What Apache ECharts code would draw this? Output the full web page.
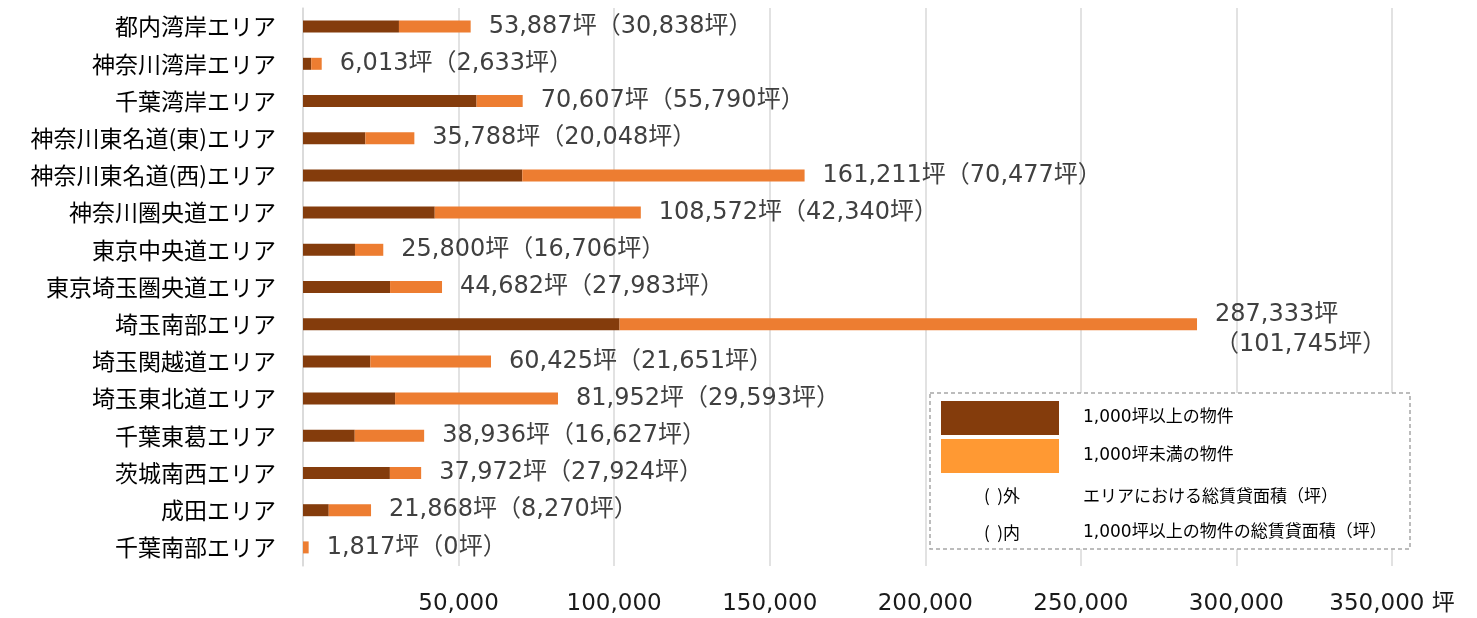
<!DOCTYPE html>
<html>
<head>
<meta charset="utf-8">
<script src="https://cdn.jsdelivr.net/npm/echarts@6/dist/echarts.min.js"></script>
<style>
  html, body { margin: 0; padding: 0; background: #fff; }
  #chart { width: 1477px; height: 618px; }
</style>
</head>
<body>
<div id="chart"></div>
<script>
// エリア名（上から順）
var areas = ['都内湾岸エリア', '神奈川湾岸エリア', '千葉湾岸エリア', '神奈川東名道(東)エリア', '神奈川東名道(西)エリア',
  '神奈川圏央道エリア', '東京中央道エリア', '東京埼玉圏央道エリア', '埼玉南部エリア', '埼玉関越道エリア',
  '埼玉東北道エリア', '千葉東葛エリア', '茨城南西エリア', '成田エリア', '千葉南部エリア']
// エリアにおける総賃貸面積（坪）
var totalArea = [53887, 6013, 70607, 35788, 161211, 108572, 25800, 44682, 287333, 60425, 81952, 38936, 37972, 21868, 1817]
// 1,000坪以上の物件の総賃貸面積（坪）
var largeArea = [30838, 2633, 55790, 20048, 70477, 42340, 16706, 27983, 101745, 21651, 29593, 16627, 27924, 8270, 0]
// 1,000坪未満の物件 = 総面積 - 1,000坪以上
var smallArea = totalArea.map(function (v, i) { return v - largeArea[i] })
var xTicks = [0, 50000, 100000, 150000, 200000, 250000, 300000, 350000]

var seriesNames = ['1,000坪以上の物件', '1,000坪未満の物件']
var noteRows = [['(  )外', 'エリアにおける総賃貸面積（坪）'], ['(  )内', '1,000坪以上の物件の総賃貸面積（坪）']]

var numFont = "'DejaVu Sans', 'Noto Sans CJK JP', sans-serif"
var jpFont = "'Noto Sans CJK JP', sans-serif"

function fmt(v) {
  return v.toLocaleString('en-US')
}

var chart = echarts.init(document.getElementById('chart'))
var option = {
  animation: false,
  grid: { left: 303, right: 85, top: 8, bottom: 52 },
  xAxis: {
    type: 'value',
    min: xTicks[0],
    max: xTicks[xTicks.length - 1],
    interval: xTicks[1] - xTicks[0],
    axisLine: { show: false },
    axisTick: { show: false },
    splitLine: { lineStyle: { color: '#d9d9d9', width: 1.5 } },
    axisLabel: {
      margin: 27,
      fontSize: 23,
      color: '#1a1a1a',
      fontFamily: numFont,
      formatter: function (v) {
        if (v === 0) return ''
        if (v === xTicks[xTicks.length - 1]) return fmt(v) + ' 坪'
        return fmt(v)
      }
    }
  },
  yAxis: [{
    type: 'category',
    inverse: true,
    data: areas,
    axisLine: { lineStyle: { color: '#d9d9d9', width: 1.5 } },
    axisTick: { length: 10, lineStyle: { color: '#d9d9d9', width: 1.5 } },
    axisLabel: { fontSize: 23, color: '#000', margin: 27, fontFamily: jpFont }
  }, {
    // 内側の目盛り（十字目盛りの再現用）
    type: 'category',
    inverse: true,
    position: 'left',
    data: areas,
    axisLine: { show: false },
    axisTick: { inside: true, length: 10, lineStyle: { color: '#d9d9d9', width: 1.5 } },
    axisLabel: { show: false }
  }],
  legend: {
    orient: 'vertical',
    left: 941,
    top: 401,
    padding: 0,
    itemWidth: 118,
    itemHeight: 34,
    itemGap: 4,
    icon: 'rect',
    z: 10,
    selectedMode: false,
    textStyle: { fontSize: 17, color: '#000', fontFamily: numFont, padding: [0, 0, 0, 19] },
    data: [
      { name: seriesNames[0], itemStyle: { color: '#843C0C' } },
      { name: seriesNames[1], itemStyle: { color: '#FF9933' } }
    ]
  },
  graphic: [
    {
      type: 'rect', z: 8,
      shape: { x: 930, y: 393, width: 480, height: 156 },
      style: { fill: '#fff', stroke: '#a6a6a6', lineWidth: 1.5, lineDash: [4, 3] }
    },
    {
      type: 'text', z: 10, x: 1002, y: 496,
      style: { text: noteRows[0][0], font: '17px ' + jpFont, fill: '#000', textAlign: 'center', textVerticalAlign: 'middle' }
    },
    {
      type: 'text', z: 10, x: 1083, y: 496,
      style: { text: noteRows[0][1], font: '17px ' + jpFont, fill: '#000', textVerticalAlign: 'middle' }
    },
    {
      type: 'text', z: 10, x: 1002, y: 533,
      style: { text: noteRows[1][0], font: '17px ' + jpFont, fill: '#000', textAlign: 'center', textVerticalAlign: 'middle' }
    },
    {
      type: 'text', z: 10, x: 1083, y: 533,
      style: { text: noteRows[1][1], font: '17px ' + numFont, fill: '#000', textVerticalAlign: 'middle' }
    }
  ],
  series: [{
    name: seriesNames[0],
    type: 'bar',
    stack: 'area',
    barWidth: 12,
    itemStyle: { color: '#843C0C' },
    data: largeArea
  }, {
    name: seriesNames[1],
    type: 'bar',
    stack: 'area',
    barWidth: 12,
    itemStyle: { color: '#ED7D31' },
    data: smallArea.map(function (v, i) {
      // 長いラベルは2行にして少し下げる
      if (totalArea[i] > 250000) return { value: v, label: { offset: [0, 6] } }
      return v
    }),
    label: {
      show: true,
      position: 'right',
      distance: 18,
      fontSize: 24,
      lineHeight: 30,
      color: '#404040',
      fontFamily: numFont,
      formatter: function (p) {
        var i = p.dataIndex
        var sep = totalArea[i] > 250000 ? '\n' : ''
        return fmt(totalArea[i]) + '坪' + sep + '（' + fmt(largeArea[i]) + '坪）'
      }
    }
  }]
}
chart.setOption(option)
</script>
</body>
</html>
